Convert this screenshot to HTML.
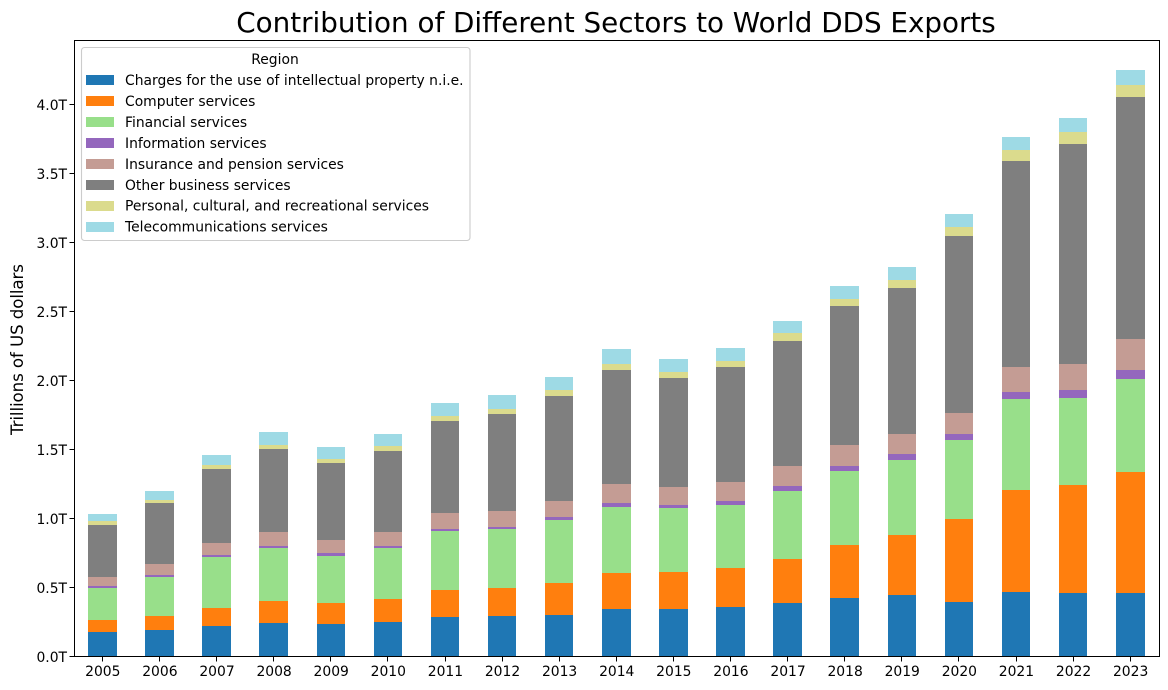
<!DOCTYPE html>
<html lang="en">
<head>
<meta charset="utf-8">
<title>Contribution of Different Sectors to World DDS Exports</title>
<style>
html,body{margin:0;padding:0;background:#fff;width:1168px;height:690px;overflow:hidden}
svg{display:block}
text{font-family:"DejaVu Sans","Liberation Sans",sans-serif;fill:#000}
.tick{font-size:13.89px}
</style>
</head>
<body>
<svg id="chart" xmlns="http://www.w3.org/2000/svg" width="1168" height="690" viewBox="0 0 1168 690">
  <rect x="0" y="0" width="1168" height="690" fill="#fff"/>
  <text x="616" y="32" text-anchor="middle" font-size="27.78">Contribution of Different Sectors to World DDS Exports</text>
  <g id="bars"></g>
  <g id="x-axis"></g>
  <g id="y-axis"></g>
  <text transform="translate(23,349.5) rotate(-90)" text-anchor="middle" font-size="16.67" textLength="171" lengthAdjust="spacing">Trillions of US dollars</text>
  <g stroke="#000" stroke-width="1.11" fill="none" shape-rendering="crispEdges">
    <line x1="74.5" y1="40.5" x2="74.5" y2="656.5"/>
    <line x1="1159.5" y1="40.5" x2="1159.5" y2="656.5"/>
    <line x1="74" y1="40.5" x2="1160" y2="40.5"/>
    <line x1="74" y1="656.5" x2="1160" y2="656.5"/>
  </g>
  <g id="legend">
    <rect x="81.5" y="47.5" width="388.5" height="193" rx="3" ry="3" fill="#fff" fill-opacity="0.8" stroke="#ccc" stroke-width="1.11"/>
    <text x="275" y="64" text-anchor="middle" font-size="13.89">Region</text>
  </g>
</svg>
<script>
const years = ["2005","2006","2007","2008","2009","2010","2011","2012","2013","2014","2015","2016","2017","2018","2019","2020","2021","2022","2023"];
const seriesNames = ["Charges for the use of intellectual property n.i.e.","Computer services","Financial services","Information services","Insurance and pension services","Other business services","Personal, cultural, and recreational services","Telecommunications services"];
const seriesColors = ["#1f77b4","#ff7f0e","#98df8a","#9467bd","#c49c94","#7f7f7f","#dbdb8d","#9edae5"];
const chargesValues = [0.174,0.188,0.217,0.239,0.232,0.246,0.283,0.290,0.297,0.341,0.341,0.355,0.384,0.420,0.442,0.391,0.464,0.457,0.457];
const computerValues = [0.087,0.101,0.130,0.159,0.152,0.167,0.196,0.203,0.232,0.261,0.268,0.283,0.319,0.384,0.435,0.601,0.739,0.783,0.877];
const financialValues = [0.232,0.283,0.370,0.384,0.341,0.370,0.428,0.428,0.457,0.478,0.464,0.457,0.493,0.536,0.543,0.572,0.659,0.630,0.674];
const informationValues = [0.014,0.014,0.014,0.014,0.022,0.014,0.014,0.014,0.022,0.029,0.022,0.029,0.036,0.036,0.043,0.043,0.051,0.058,0.065];
const insuranceValues = [0.065,0.080,0.087,0.101,0.094,0.101,0.116,0.116,0.116,0.138,0.130,0.138,0.145,0.152,0.145,0.152,0.181,0.188,0.225];
const otherValues = [0.377,0.442,0.536,0.601,0.558,0.587,0.667,0.703,0.761,0.826,0.790,0.833,0.906,1.007,1.058,1.283,1.493,1.594,1.754];
const personalValues = [0.029,0.022,0.029,0.029,0.029,0.036,0.036,0.036,0.043,0.043,0.043,0.043,0.058,0.051,0.058,0.065,0.080,0.087,0.087];
const telecomValues = [0.051,0.065,0.072,0.094,0.087,0.087,0.094,0.101,0.094,0.109,0.094,0.094,0.087,0.094,0.094,0.094,0.094,0.101,0.109];
const yTickValues = [0,0.5,1,1.5,2,2.5,3,3.5,4];
const yTickLabels = ["0.0T","0.5T","1.0T","1.5T","2.0T","2.5T","3.0T","3.5T","4.0T"];

const allSeries = [chargesValues,computerValues,financialValues,informationValues,insuranceValues,otherValues,personalValues,telecomValues];
const NS = "http://www.w3.org/2000/svg";
const firstCenter = 102.4, unitX = 57.103;
const zeroY = 656.5, pxPerTrillion = 138;
function xScale(i){ return firstCenter + unitX * i; }
function yScale(v){ return zeroY - v * pxPerTrillion; }
function make(tag, attrs, parent){
  const el = document.createElementNS(NS, tag);
  for (const k in attrs) el.setAttribute(k, attrs[k]);
  parent.appendChild(el);
  return el;
}

const barsGroup = document.getElementById("bars");
const barHalf = 14.25;
years.forEach(function(year, i){
  let base = 0;
  allSeries.forEach(function(values, s){
    const top = base + values[i];
    const x0 = Math.round(xScale(i) - barHalf);
    const x1 = Math.round(xScale(i) + barHalf);
    const y0 = Math.floor(yScale(base));
    const y1 = Math.floor(yScale(top));
    const rect = make("rect", {x:x0, y:y1, width:x1 - x0, height:y0 - y1, fill:seriesColors[s], "shape-rendering":"crispEdges"}, barsGroup);
    
    
    base = top;
  });
});

const xAxis = document.getElementById("x-axis");
years.forEach(function(year, i){
  const px = Math.floor(xScale(i)) + 0.5;
  const tick = make("line", {x1:px, x2:px, y1:656, y2:661.4, stroke:"#000", "stroke-width":1.11, "shape-rendering":"crispEdges"}, xAxis);
  
  
  const label = make("text", {x:xScale(i) + 0.4, y:676, "text-anchor":"middle", class:"tick"}, xAxis);
  
  
  label.textContent = year;
});

const yAxis = document.getElementById("y-axis");
yTickValues.forEach(function(v, i){
  const py = Math.floor(yScale(v)) + 0.5;
  const tick = make("line", {x1:69.6, x2:74.5, y1:py, y2:py, stroke:"#000", "stroke-width":1.11, "shape-rendering":"crispEdges"}, yAxis);
  
  
  const label = make("text", {x:67, y:yScale(v) + 5.4, "text-anchor":"end", class:"tick"}, yAxis);
  
  
  label.textContent = yTickLabels[i];
});

const legend = document.getElementById("legend");
seriesNames.forEach(function(name, s){
  const rowTop = 75 + s * 20.95;
  const swatch = make("rect", {x:86, y:Math.round(rowTop), width:28, height:10, fill:seriesColors[s], "shape-rendering":"crispEdges"}, legend);
  
  
  const label = make("text", {x:125, y:rowTop + 10, "font-size":13.89}, legend);
  
  
  label.textContent = name;
});
</script>
</body>
</html>
